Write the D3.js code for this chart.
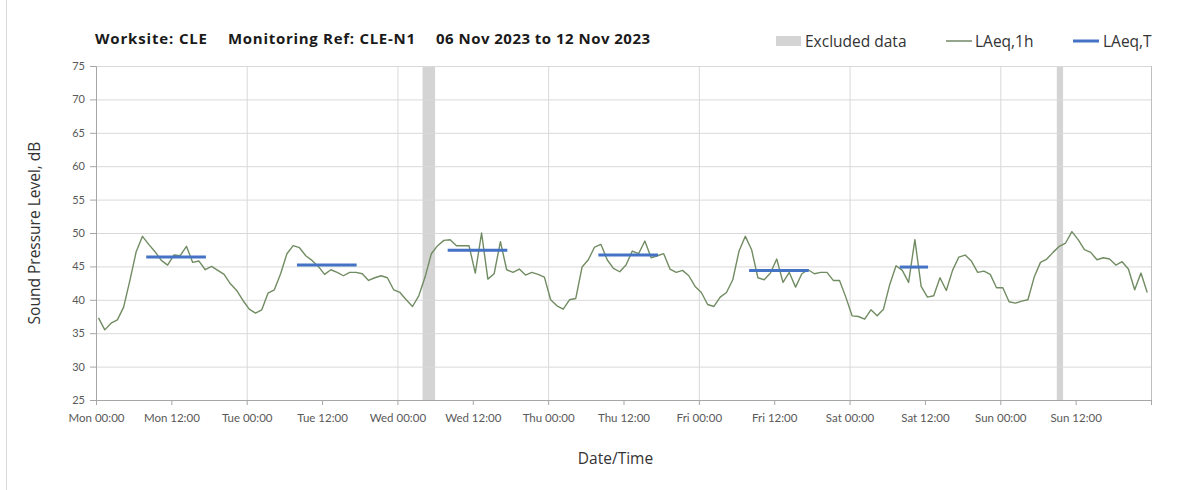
<!DOCTYPE html>
<html>
<head>
<meta charset="utf-8">
<script src="https://cdn.jsdelivr.net/npm/d3@7"></script>
<style>
  body { margin: 0; background: #fff; }
  svg { display: block; font-family: "Open Sans", Lato, sans-serif; }
</style>
</head>
<body>
<div id="chart"></div>
<script>
// LAeq,1h hourly readings from Mon 06 Nov 2023 00:00 (plotted mid-hour)
var firstReading = "2023-11-06 00:24"
var laeq1h = [
  37.3, 35.5, 36.5, 37.0, 38.9, 42.9, 47.2, 49.5, 48.3, 47.2,
  45.9, 45.2, 46.7, 46.6, 48.0, 45.6, 45.8, 44.5, 45.0, 44.4,
  43.8, 42.4, 41.4, 39.9, 38.6, 38.0, 38.5, 41.0, 41.5, 43.9,
  46.9, 48.1, 47.8, 46.6, 45.9, 45.0, 43.8, 44.5, 44.1, 43.6,
  44.1, 44.1, 43.9, 42.9, 43.3, 43.6, 43.3, 41.5, 41.1, 40.0,
  39.0, 40.6, 43.4, 46.9, 48.1, 48.9, 49.0, 48.1, 48.1, 48.1,
  44.0, 50.0, 43.1, 43.9, 48.7, 44.5, 44.1, 44.6, 43.7, 44.1,
  43.8, 43.4, 40.0, 39.1, 38.6, 40.0, 40.2, 44.9, 46.0, 47.9,
  48.3, 46.0, 44.7, 44.2, 45.2, 47.3, 46.9, 48.8, 46.3, 46.6,
  46.9, 44.6, 44.1, 44.4, 43.6, 42.0, 41.1, 39.3, 39.0, 40.4,
  41.1, 43.0, 47.3, 49.5, 47.5, 43.3, 43.0, 44.0, 46.1, 42.6,
  44.1, 41.9, 43.9, 44.5, 43.9, 44.1, 44.1, 42.9, 42.9, 40.4,
  37.6, 37.5, 37.1, 38.5, 37.6, 38.6, 42.3, 45.1, 44.4, 42.6,
  49.0, 42.0, 40.4, 40.6, 43.3, 41.4, 44.4, 46.4, 46.7, 45.8,
  44.1, 44.3, 43.8, 41.8, 41.8, 39.7, 39.5, 39.8, 40.0, 43.4,
  45.6, 46.1, 47.1, 48.0, 48.5, 50.2, 49.0, 47.5, 47.1, 46.0,
  46.3, 46.1, 45.2, 45.7, 44.6, 41.5, 44.0, 41.1
]
// LAeq,T over the working periods
var periodStart = ["2023-11-06 08:00", "2023-11-07 08:00", "2023-11-08 08:00", "2023-11-09 08:00", "2023-11-10 08:00", "2023-11-11 08:00"]
var periodEnd = ["2023-11-06 17:30", "2023-11-07 17:30", "2023-11-08 17:30", "2023-11-09 17:30", "2023-11-10 17:30", "2023-11-11 12:30"]
var laeqT = [46.4, 45.2, 47.4, 46.7, 44.4, 44.9]
// excluded data
var excludedStart = ["2023-11-08 04:00", "2023-11-12 09:00"]
var excludedEnd = ["2023-11-08 06:00", "2023-11-12 10:00"]
var yTicks = [25, 30, 35, 40, 45, 50, 55, 60, 65, 70, 75]
var xDomain = ["2023-11-06 00:00", "2023-11-13 00:00"]

var parse = d3.timeParse("%Y-%m-%d %H:%M")
var fmt = d3.timeFormat("%a %H:%M")

var svg = d3.select("#chart")
    .append("svg")
    .attr("width", 1203)
    .attr("height", 490)

var margin = { top: 66, right: 52, bottom: 90, left: 96 }
var width = 1203 - margin.left - margin.right
var height = 490 - margin.top - margin.bottom

svg.append("rect")
    .attr("x", 6.5).attr("y", -5)
    .attr("width", 1210).attr("height", 500)
    .attr("fill", "none")
    .attr("stroke", "#d9d9d9")

var x = d3.scaleTime()
    .domain(xDomain.map(parse))
    .range([0, width])
var y = d3.scaleLinear()
    .domain([25, 75])
    .range([height, 0])

var g = svg.append("g")
    .attr("transform", "translate(" + margin.left + "," + margin.top + ")")

// excluded bars
g.selectAll(".excl")
    .data(excludedStart.map((s, i) => ({ s: parse(s), e: parse(excludedEnd[i]) })))
    .enter().append("rect")
    .attr("class", "excl")
    .attr("x", d => x(d.s))
    .attr("width", d => x(d.e) - x(d.s))
    .attr("y", 0)
    .attr("height", height)
    .attr("fill", "#d4d4d4")

// horizontal gridlines
g.append("g")
    .call(d3.axisLeft(y).tickValues(yTicks).tickSize(-width).tickFormat(""))
    .call(g => {
        g.select(".domain").remove()
        g.selectAll("line").attr("stroke", "#d9d9d9")
    })

// vertical gridlines at midnight
g.append("g")
    .attr("transform", "translate(0," + height + ")")
    .call(d3.axisBottom(x).ticks(d3.timeDay.every(1)).tickSize(-height).tickFormat(""))
    .call(g => {
        g.select(".domain").remove()
        g.selectAll("line").attr("stroke", "#d9d9d9")
    })

// right border
g.append("line")
    .attr("x1", width + 0.5).attr("x2", width + 0.5)
    .attr("y1", 0).attr("y2", height + 5)
    .attr("stroke", "#bfbfbf")

// y axis
g.append("g")
    .call(d3.axisLeft(y).tickValues(yTicks).tickSize(6).tickPadding(5))
    .call(g => {
        g.select(".domain").attr("stroke", "#a6a6a6")
        g.selectAll("line").attr("stroke", "#a6a6a6")
        g.selectAll("text")
            .attr("fill", "#595959")
            .attr("font-size", 11)
            .attr("font-family", "Lato, sans-serif")
    })

// x axis
g.append("g")
    .attr("transform", "translate(0," + height + ")")
    .call(d3.axisBottom(x).ticks(d3.timeHour.every(12)).tickSize(5).tickPadding(9).tickFormat(d => fmt(d)))
    .call(g => {
        g.select(".domain").attr("stroke", "#a6a6a6")
        g.selectAll("line").attr("stroke", "#a6a6a6")
        g.selectAll("text")
            .attr("fill", "#595959")
            .attr("font-size", 11.5)
            .attr("font-family", "Lato, sans-serif")
        // last tick (next Monday) has no label
        g.selectAll(".tick").filter(d => +d == +x.domain()[1]).select("text").remove()
    })

var t0 = parse(firstReading)
var series = laeq1h.map((v, i) => ({ t: d3.timeHour.offset(t0, i), v: v }))

var line = d3.line()
    .x(d => x(d.t))
    .y(d => y(d.v))

g.append("path")
    .datum(series)
    .attr("d", line)
    .attr("fill", "none")
    .attr("stroke", "#718c62")
    .attr("stroke-width", 1.4)
    .attr("stroke-linejoin", "round")

g.selectAll(".laeqT")
    .data(laeqT.map((v, i) => ({ s: parse(periodStart[i]), e: parse(periodEnd[i]), v: v })))
    .enter().append("line")
    .attr("class", "laeqT")
    .attr("x1", d => x(d.s))
    .attr("x2", d => x(d.e))
    .attr("y1", d => y(d.v))
    .attr("y2", d => y(d.v))
    .attr("stroke", "#4472c4")
    .attr("stroke-width", 3)

// titles
var title = svg.append("text")
    .attr("x", 95)
    .attr("y", 44)
    .attr("font-size", 15)
    .attr("font-weight", 700)
    .attr("fill", "#1a1a1a")
title.append("tspan").attr("textLength", 112).attr("lengthAdjust", "spacing").text("Worksite: CLE")
title.append("tspan").attr("x", 228).attr("textLength", 187).attr("lengthAdjust", "spacing").text("Monitoring Ref: CLE-N1")
title.append("tspan").attr("x", 436).attr("textLength", 214).attr("lengthAdjust", "spacing").text("06 Nov 2023 to 12 Nov 2023")

svg.append("text")
    .attr("transform", "translate(40," + (margin.top + height / 2) + ") rotate(-90)")
    .attr("text-anchor", "middle")
    .attr("font-size", 15.5)
    .attr("fill", "#333")
    .text("Sound Pressure Level, dB")

svg.append("text")
    .attr("x", margin.left + width / 2 - 8)
    .attr("y", 464)
    .attr("text-anchor", "middle")
    .attr("font-size", 15.5)
    .attr("fill", "#333")
    .text("Date/Time")

// legend
var lg = svg.append("g").attr("font-size", 15.5).attr("fill", "#333")
lg.append("rect").attr("x", 776).attr("y", 36).attr("width", 25).attr("height", 10).attr("fill", "#d4d4d4")
lg.append("text").attr("x", 805).attr("y", 47).text("Excluded data")
lg.append("line").attr("x1", 946).attr("x2", 972).attr("y1", 41).attr("y2", 41)
    .attr("stroke", "#4f6b3f").attr("stroke-width", 1.2)
lg.append("text").attr("x", 975).attr("y", 47).text("LAeq,1h")
lg.append("line").attr("x1", 1073).attr("x2", 1099).attr("y1", 41).attr("y2", 41)
    .attr("stroke", "#4472c4").attr("stroke-width", 3)
lg.append("text").attr("x", 1103).attr("y", 47).text("LAeq,T")
</script>
</body>
</html>
